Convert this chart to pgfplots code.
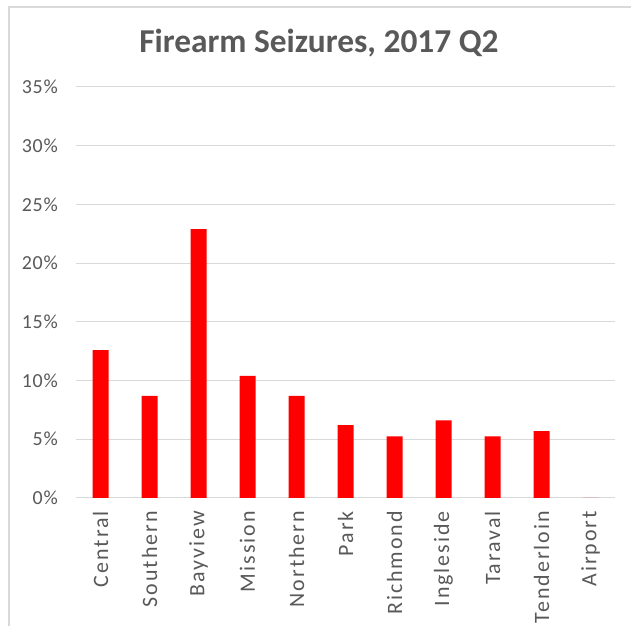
\documentclass[border=0pt]{standalone}
\usepackage{pgfplots}
\pgfplotsset{compat=1.18}
\usepackage{fontspec}
\setmainfont{Carlito}
\definecolor{txtgray}{HTML}{595959}
\definecolor{gridgray}{HTML}{D9D9D9}
\begin{document}
\begin{tikzpicture}[x=1bp,y=1bp]
\useasboundingbox (0,0) rectangle (631,626);
\fill[white] (0,0) rectangle (631,626);
\draw[gridgray, line width=1.8bp] (9,0) -- (9,619) -- (631,619);
\node[text=txtgray, font=\fontsize{33.5}{38}\selectfont\bfseries] at (319,583) {Firearm Seizures, 2017 Q2};
\begin{axis}[
  at={(76bp,128bp)}, anchor=south west,
  scale only axis, width=539bp, height=411bp,
  ymin=0, ymax=35, ytick={0,5,...,35},
  yticklabel={\pgfmathprintnumber{\tick}\%},
  /pgf/number format/assume math mode=true,
  xmin=-0.5, xmax=10.5,
  xtick={0,...,10},
  xticklabels={Central,Southern,Bayview,Mission,Northern,Park,Richmond,Ingleside,Taraval,Tenderloin,Airport},
  x tick label style={rotate=90, anchor=east, font=\fontsize{22}{26}\selectfont\addfontfeature{LetterSpace=9}, text=txtgray, inner sep=0pt},
  xticklabel shift=13bp,
  y tick label style={font=\fontsize{20}{24}\selectfont\addfontfeature{LetterSpace=4}, text=txtgray, inner sep=0pt},
  yticklabel shift=18bp,
  major tick length=0pt,
  ymajorgrids, grid style={gridgray, line width=1bp},
  axis x line*=bottom, axis y line*=left,
  x axis line style={gridgray, line width=1bp, -},
  y axis line style={draw=none},
  ybar, bar width=16bp,
]
\addplot[fill=red, draw=none] coordinates {
(0,12.6) (1,8.7) (2,22.9) (3,10.4) (4,8.7) (5,6.2) (6,5.25) (7,6.6) (8,5.25) (9,5.7) (10,0)
};
\end{axis}
\end{tikzpicture}
\end{document}
